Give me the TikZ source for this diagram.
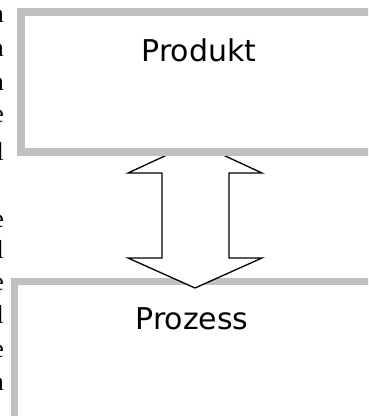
\documentclass[tikz,border=0pt]{standalone}
\usepackage{fontspec}
\setmainfont{DejaVu Sans}
\newfontfamily\sidefont{Liberation Serif}
\definecolor{boxgray}{HTML}{C0C0C0}
\tikzset{
  bigbox/.style={draw=boxgray, line width=7.5pt, fill=white},
  boxlabel/.style={font=\fontsize{30}{36}\selectfont, inner sep=0pt, anchor=base},
  sidetext/.style={font=\sidefont\fontsize{26}{30}\selectfont, inner sep=0pt, anchor=base east},
  blockarrow/.style={draw=black, line width=1.3pt, fill=white, line join=miter}
}
\begin{document}
\begin{tikzpicture}[x=1pt,y=-1pt]
\useasboundingbox (0,0) rectangle (368,416);
\clip (0,0) rectangle (368,416);
\fill[white] (0,0) rectangle (368,416);
% cut-off text at the left edge
\node[sidetext] (s1) at (4,22) {n};
\node[sidetext] (s2) at (4,56) {n};
\node[sidetext] (s3) at (4,90) {n};
\node[sidetext] (s4) at (4,122) {e};
\node[sidetext] (s5) at (4,160) {l};
\node[sidetext] (s6) at (4,227) {e};
\node[sidetext] (s7) at (4,258) {l};
\node[sidetext] (s8) at (4,290) {e};
\node[sidetext] (s9) at (4,323) {l};
\node[sidetext] (s10) at (4,357) {e};
\node[sidetext] (s11) at (4,390) {n};
% lower box
\draw[bigbox] (14.5,281.5) rectangle (430,480);
\node[boxlabel] (prozess) at (192,329) {Prozess};
% double block arrow
\coordinate (tipU) at (195,142);
\coordinate (tipD) at (195,288);
\draw[blockarrow] (tipU) -- (262,173) -- (229,173) -- (229,258) -- (262,258)
  -- (tipD) -- (128,258) -- (162,258) -- (162,173) -- (128,173) -- cycle;
% upper box
\draw[bigbox] (21,12) rectangle (430,152);
\node[boxlabel] (produkt) at (199,61) {Produkt};
\end{tikzpicture}
\end{document}
